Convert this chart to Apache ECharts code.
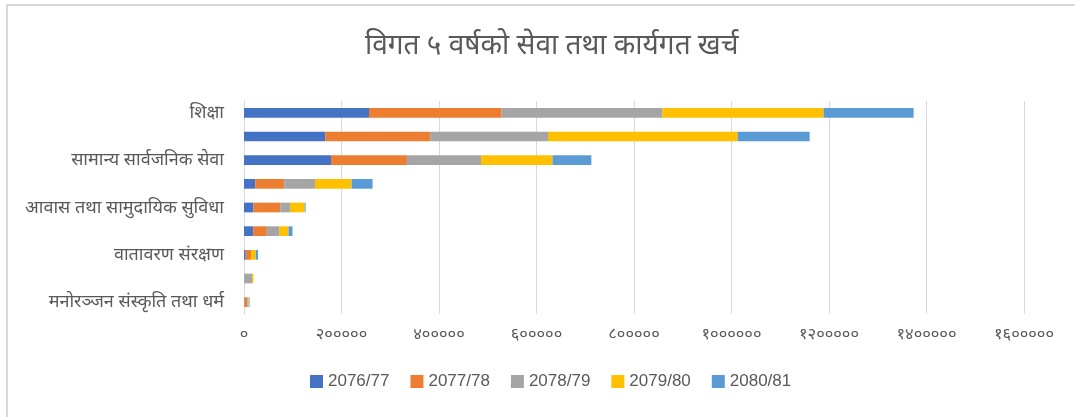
<!DOCTYPE html>
<html>
<head>
<meta charset="utf-8">
<script src="https://cdn.jsdelivr.net/npm/echarts@6/dist/echarts.min.js"></script>
<style>
  html, body { margin: 0; padding: 0; background: #fff; }
  #main { width: 1075px; height: 417px; }
</style>
</head>
<body>
<div id="main"></div>
<script>
// categories bottom -> top (only every second one is labelled in the picture)
const categories = [
    'मनोरञ्जन संस्कृति तथा धर्म',
    'सार्वजनिक व्यवस्था तथा सुरक्षा',
    'वातावरण संरक्षण',
    'सामाजिक सुरक्षा',
    'आवास तथा सामुदायिक सुविधा',
    'स्वास्थ्य',
    'सामान्य सार्वजनिक सेवा',
    'आर्थिक मामिला',
    'शिक्षा'
]
const years = ['2076/77', '2077/78', '2078/79', '2079/80', '2080/81']
const y7677 = [800, 500, 3500, 18800, 19200, 22900, 178600, 166700, 256400]
const y7778 = [6500, 0, 11000, 28000, 55000, 59500, 155600, 215200, 272000]
const y7879 = [1500, 16000, 0, 25300, 20100, 63200, 152100, 241700, 329700]
const y7980 = [1000, 2700, 9600, 19200, 30200, 75100, 146500, 389200, 330600]
const y8081 = [1500, 0, 4800, 8200, 1900, 43000, 79700, 147500, 184900]
const colors = ['#4472c4', '#ed7d31', '#a5a5a5', '#ffc000', '#5b9bd5']

const devDigits = '०१२३४५६७८९'
const toDev = v => String(v).replace(/[0-9]/g, d => devDigits[d])

const seriesValues = [y7677, y7778, y7879, y7980, y8081]
const series = years.map((name, i) => ({
    name,
    type: 'bar',
    stack: 'total',
    barWidth: '41%',
    data: seriesValues[i],
    itemStyle: { color: colors[i] },
}))

const chart = echarts.init(document.getElementById('main'))
chart.setOption({
    animation: false,
    color: colors,
    graphic: [{
        type: 'rect',
        shape: { x: 7, y: 5, width: 1200, height: 600 },
        style: { fill: 'none', stroke: '#d9d9d9', lineWidth: 2 },
        silent: true,
    }],
    title: {
        text: 'विगत ५ वर्षको सेवा तथा कार्यगत खर्च',
        left: 360,
        top: 27,
        textStyle: {
            color: '#595959',
            fontSize: 28,
            fontWeight: 'normal',
            fontFamily: 'Noto Sans, sans-serif',
        },
    },
    legend: {
        bottom: 22,
        left: 305,
        itemWidth: 13,
        itemHeight: 13,
        itemGap: 21,
        icon: 'rect',
        textStyle: { color: '#595959', fontSize: 17, fontFamily: 'Liberation Sans, Arial, sans-serif' },
    },
    grid: { left: 244, right: 51, top: 101, bottom: 103 },
    xAxis: {
        type: 'value',
        min: 0,
        max: 1600000,
        interval: 200000,
        axisLine: { show: false },
        axisTick: { show: false },
        axisLabel: {
            color: '#595959',
            fontSize: 16.5,
            margin: 12,
            fontFamily: 'Noto Sans, sans-serif',
            formatter: v => toDev(v),
        },
        splitLine: { lineStyle: { color: '#d9d9d9', width: 1 } },
    },
    yAxis: {
        type: 'category',
        data: categories,
        axisLine: { show: true, lineStyle: { color: '#d9d9d9', width: 1 } },
        axisTick: { show: false },
        axisLabel: {
            interval: 1,
            color: '#595959',
            fontSize: 18,
            margin: 20,
            fontFamily: 'Noto Sans, sans-serif',
        },
    },
    series,
})
</script>
</body>
</html>
